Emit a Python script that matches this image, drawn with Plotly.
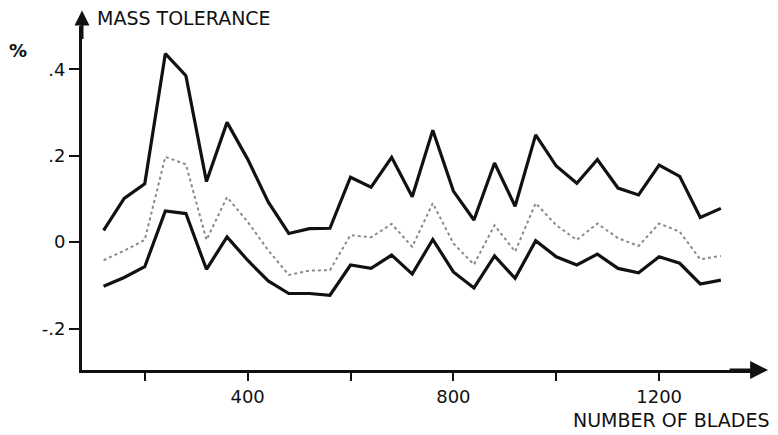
import plotly.graph_objects as go

blades = [120, 160, 200, 240, 280, 320, 360, 400, 440, 480, 520, 560, 600, 640, 680,
          720, 760, 800, 840, 880, 920, 960, 1000, 1040, 1080, 1120, 1160, 1200, 1240,
          1280, 1320]
upper = [0.027, 0.101, 0.135, 0.436, 0.385, 0.140, 0.277, 0.192, 0.093, 0.020, 0.031,
         0.032, 0.150, 0.127, 0.196, 0.105, 0.259, 0.118, 0.051, 0.183, 0.083, 0.248,
         0.176, 0.136, 0.191, 0.125, 0.109, 0.178, 0.152, 0.057, 0.078]
mean = [-0.042, -0.020, 0.005, 0.197, 0.180, 0.005, 0.104, 0.047, -0.019, -0.076, -0.066,
        -0.065, 0.016, 0.011, 0.042, -0.011, 0.090, -0.003, -0.052, 0.039, -0.022, 0.090,
        0.039, 0.005, 0.043, 0.009, -0.009, 0.043, 0.024, -0.040, -0.032]
lower = [-0.102, -0.082, -0.057, 0.072, 0.066, -0.063, 0.012, -0.042, -0.090, -0.119, -0.119,
         -0.123, -0.053, -0.061, -0.030, -0.074, 0.006, -0.069, -0.106, -0.032, -0.084, 0.003,
         -0.034, -0.053, -0.028, -0.061, -0.071, -0.034, -0.049, -0.097, -0.088]

x_tickvals = [200, 400, 600, 800, 1000, 1200]
x_ticktext = ["", "400", "", "800", "", "1200"]
y_tickvals = [-0.2, 0, 0.2, 0.4]
y_ticktext = ["-.2", "0", ".2", ".4"]

FONT = "DejaVu Sans"

fig = go.Figure()
fig.add_trace(go.Scatter(x=blades, y=upper, mode="lines",
                         line=dict(color="#111111", width=3.2), showlegend=False))
fig.add_trace(go.Scatter(x=blades, y=mean, mode="lines",
                         line=dict(color="#8a8a8a", width=2, dash="dot"), showlegend=False))
fig.add_trace(go.Scatter(x=blades, y=lower, mode="lines",
                         line=dict(color="#111111", width=3.2), showlegend=False))

fig.update_layout(
    width=778, height=435,
    margin=dict(l=82, r=16, t=26, b=65),
    paper_bgcolor="white", plot_bgcolor="white",
    font=dict(family=FONT, color="#111111", size=18),
    xaxis=dict(range=[78, 1400], showgrid=False, zeroline=False,
               showline=True, linecolor="#111111", linewidth=3,
               tickvals=x_tickvals, ticktext=x_ticktext,
               ticks="outside", ticklen=8, tickwidth=2, tickcolor="#111111",
               tickfont=dict(size=18, family=FONT)),
    yaxis=dict(range=[-0.296, 0.5], showgrid=False, zeroline=False,
               showline=True, linecolor="#111111", linewidth=3,
               tickvals=y_tickvals, ticktext=y_ticktext,
               ticks="outside", ticklen=10, tickwidth=2, tickcolor="#111111",
               tickfont=dict(size=18, family=FONT)),
    annotations=[
        dict(xref="paper", yref="paper", x=1.009, y=0, ax=-40, ay=0,
             text="", showarrow=True, arrowhead=2, arrowsize=1.2,
             arrowwidth=3, arrowcolor="#111111"),
        dict(xref="paper", yref="paper", x=0, y=1.045, ax=0, ay=30,
             text="", showarrow=True, arrowhead=2, arrowsize=1.0,
             arrowwidth=3, arrowcolor="#111111"),
        dict(xref="paper", yref="paper", x=0.019, y=1.023, xanchor="left", yanchor="middle",
             text="MASS TOLERANCE", showarrow=False, font=dict(size=19, family=FONT)),
        dict(xref="paper", yref="paper", x=-0.094, y=0.930, xanchor="center", yanchor="middle",
             text="<b>%</b>", showarrow=False, font=dict(size=18, family=FONT)),
        dict(xref="paper", yref="paper", x=1.013, y=-0.145, xanchor="right", yanchor="middle",
             text="NUMBER OF BLADES", showarrow=False, font=dict(size=19, family=FONT)),
    ],
)

fig.write_html("out.html",
               config={"displayModeBar": False},
               post_script="document.body.style.margin='0';document.body.style.overflow='hidden';")
